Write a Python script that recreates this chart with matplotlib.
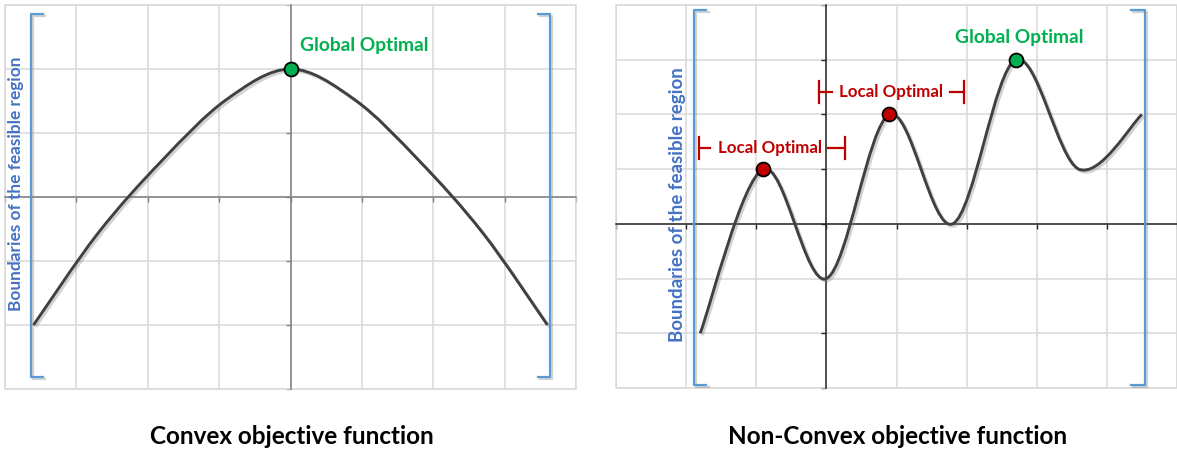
import numpy as np
import matplotlib
matplotlib.use("Agg")
import matplotlib.pyplot as plt
from matplotlib.path import Path
from matplotlib.patches import PathPatch, Rectangle
import matplotlib.patheffects as pe

# dane - funkcja wypukla
convex_x = [-3.6, -2.7, -1.8, -0.9, 0.0, 0.9, 1.8, 2.7, 3.6]
convex_y = [-2.0, -0.57, 0.57, 1.52, 2.0, 1.52, 0.57, -0.57, -2.0]
convex_opt = (0.0, 2.0)

# funkcja niewypukla
nonconvex_x = [-1.8, -0.9, 0.0, 0.9, 1.8, 2.7, 3.6, 4.5]
nonconvex_y = [-2.0, 1.0, -1.0, 2.0, 0.0, 3.0, 1.0, 2.0]
local_opt_x = [-0.9, 0.9]
local_opt_y = [1.0, 2.0]
global_opt = (2.7, 3.0)

titles = ["Convex objective function", "Non-Convex objective function"]
bound_label = "Boundaries of the feasible region"

CURVE = "#404040"
GREEN = "#00B050"
RED = "#C00000"
BLUE = "#5B9BD5"
BLUE_TXT = "#4472C4"
GRID = "#D9D9D9"

shadow = [pe.SimpleLineShadow(offset=(1.5, -1.5), shadow_color="grey", alpha=0.35), pe.Normal()]
FONT = ["Lato", "DejaVu Sans"]


def smooth_path(xs, ys):
    # gladka linia jak w Excelu (krzywe Beziera przez punkty)
    p = np.column_stack([xs, ys]).astype(float)
    n = len(p)
    verts = [p[0]]
    codes = [Path.MOVETO]
    for i in range(n - 1):
        p0 = p[max(i - 1, 0)]
        p1 = p[i]
        p2 = p[i + 1]
        p3 = p[min(i + 2, n - 1)]
        verts += [p1 + (p2 - p0) / 6, p2 - (p3 - p1) / 6, p2]
        codes += [Path.CURVE4] * 3
    return Path(verts, codes)


def setup(ax, xr, yr, axis_col):
    ax.set_xlim(*xr)
    ax.set_ylim(*yr)
    ax.set_xticks(range(xr[0], xr[1] + 1))
    ax.set_yticks(range(yr[0], yr[1] + 1))
    ax.grid(True, color=GRID, lw=1.1)
    ax.set_axisbelow(True)
    ax.tick_params(labelbottom=False, labelleft=False, direction="out",
                   length=3.5, width=1, color=axis_col)
    ax.spines["left"].set_position(("data", 0))
    ax.spines["bottom"].set_position(("data", 0))
    for s in ["left", "bottom"]:
        ax.spines[s].set_color(axis_col)
        ax.spines[s].set_linewidth(1.1)
    for s in ["top", "right"]:
        ax.spines[s].set_visible(False)
    ax.add_patch(Rectangle((0, 0), 1, 1, transform=ax.transAxes, fill=False,
                           ec=GRID, lw=1.1, clip_on=False, zorder=0.6))


def bracket(ax, x, x_end, top, bottom):
    ax.plot([x_end, x, x, x_end], [top, top, bottom, bottom], color=BLUE,
            lw=1.6, clip_on=False, zorder=4, path_effects=shadow)


fig = plt.figure(figsize=(11.77, 4.5), dpi=100)

# lewy wykres
ax1 = fig.add_axes([5 / 1177, 61 / 450, 571 / 1177, 384 / 450])
setup(ax1, (-4, 4), (-3, 3), "#7F7F7F")
ax1.add_patch(PathPatch(smooth_path(convex_x, convex_y), fill=False, ec=CURVE,
                        lw=2.1, zorder=5, path_effects=shadow))
ax1.plot(*convex_opt, "o", ms=10, mfc=GREEN, mec="black", mew=1.3, zorder=6)
ax1.text(0.14, 2.36, "Global Optimal", color=GREEN, fontsize=13.8,
         fontweight="bold", family=FONT, ha="left", va="center")
bracket(ax1, -3.64, -3.47, 2.86, -2.81)
bracket(ax1, 3.63, 3.47, 2.86, -2.81)
ax1.text(-3.85, 0.2, bound_label, rotation=90, color=BLUE_TXT, fontsize=12.4,
         fontweight="bold", family=FONT, ha="center", va="center")

# prawy wykres
ax2 = fig.add_axes([616 / 1177, 62 / 450, 561 / 1177, 383 / 450])
setup(ax2, (-3, 5), (-3, 4), "#262626")
ax2.add_patch(PathPatch(smooth_path(nonconvex_x, nonconvex_y), fill=False, ec=CURVE,
                        lw=2.1, zorder=5, path_effects=shadow))
ax2.plot(local_opt_x, local_opt_y, "o", ms=10, mfc=RED, mec="black", mew=1.3, zorder=6)
ax2.plot(*global_opt, "o", ms=10, mfc=GREEN, mec="black", mew=1.3, zorder=6)
ax2.text(2.745, 3.40, "Global Optimal", color=GREEN, fontsize=13.8,
         fontweight="bold", family=FONT, ha="center", va="center")

# opisy optimow lokalnych ze znacznikami |- ... -|
# (lewa kreska, koniec lewej linii, srodek tekstu, poczatek prawej linii, prawa kreska, y)
for (xl, xt0, xc, xt1, xr, yc) in [(-1.82, -1.66, -0.80, 0.02, 0.27, 1.39),
                                   (-0.10, 0.08, 0.925, 1.77, 1.96, 2.41)]:
    ax2.plot([xl, xl], [yc - 0.2, yc + 0.2], color=RED, lw=1.6, zorder=4)
    ax2.plot([xr, xr], [yc - 0.2, yc + 0.2], color=RED, lw=1.6, zorder=4)
    ax2.plot([xl, xt0], [yc, yc], color=RED, lw=1.6, zorder=4)
    ax2.plot([xt1, xr], [yc, yc], color=RED, lw=1.6, zorder=4)
    ax2.text(xc, yc, "Local Optimal", color=RED, fontsize=12.2,
             fontweight="bold", family=FONT, ha="center", va="center", zorder=4)

bracket(ax2, -1.89, -1.71, 3.91, -2.94)
bracket(ax2, 4.54, 4.34, 3.91, -2.94)
ax2.text(-2.12, 0.35, bound_label, rotation=90, color=BLUE_TXT, fontsize=13.5,
         fontweight="bold", family=FONT, ha="center", va="center")

# podpisy pod wykresami
fig.text(292 / 1177, 1 - 437 / 450, titles[0], fontsize=17.5, fontweight="bold",
         family=FONT, ha="center", va="center")
fig.text(898 / 1177, 1 - 437 / 450, titles[1], fontsize=17.5, fontweight="bold",
         family=FONT, ha="center", va="center")

fig.savefig("out.png", dpi=100)
